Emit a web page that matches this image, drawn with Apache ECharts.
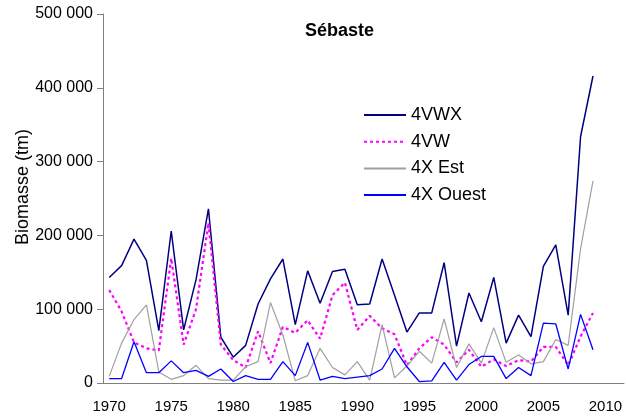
<!DOCTYPE html>
<html>
<head>
<meta charset="utf-8">
<script src="https://cdn.jsdelivr.net/npm/echarts@6/dist/echarts.min.js"></script>
<style>
html,body{margin:0;padding:0;background:#fff;}
#chart{width:626px;height:418px;}
</style>
</head>
<body>
<div id="chart"></div>
<script>
var years = ['1970','1971','1972','1973','1974','1975','1976','1977','1978','1979',
             '1980','1981','1982','1983','1984','1985','1986','1987','1988','1989',
             '1990','1991','1992','1993','1994','1995','1996','1997','1998','1999',
             '2000','2001','2002','2003','2004','2005','2006','2007','2008','2009',
             '2010','2011'];
var s4VWX = [143000,159000,195000,166000,71000,206000,72000,140000,236000,62000,
             35000,51000,107000,141000,168000,79000,152000,108000,151000,154000,
             106000,107000,168000,119000,69000,95000,95000,163000,50000,122000,
             83000,143000,54000,92000,63000,158000,187000,92000,334000,416000];
var s4VW = [126000,97000,55000,47000,44000,169000,52000,100000,217000,52000,
            31000,21000,70000,27000,76000,68000,85000,60000,119000,136000,
            72000,91000,74000,66000,24000,47000,62000,52000,28000,45000,
            22000,32000,23000,31000,29000,49000,49000,24000,63000,95000];
var s4XEst = [9000,54000,86000,106000,15000,5000,10000,24000,6000,4000,
              4000,22000,29000,109000,65000,3000,10000,47000,21000,11000,
              29000,4000,79000,7000,23000,43000,27000,87000,21000,53000,
              27000,75000,28000,38000,26000,29000,59000,51000,182000,274000];
var s4XOuest = [6000,6000,56000,14000,14000,30000,14000,17000,9000,19000,
                2000,10000,5000,5000,29000,10000,55000,4000,9000,6000,
                8000,10000,19000,47000,22000,2000,3000,28000,4000,25000,
                36000,36000,6000,21000,10000,81000,80000,19000,93000,45000];
var yTicks = [0,100000,200000,300000,400000,500000];

var FONT = "'Liberation Sans', Arial, sans-serif";
function fmt(v){ return String(v).replace(/\B(?=(\d{3})+(?!\d))/g,' '); }

var chart = echarts.init(document.getElementById('chart'), null, {renderer:'canvas'});
chart.setOption({
  animation:false,
  backgroundColor:'#ffffff',
  textStyle:{fontFamily:FONT},
  title:{
    text:'Sébaste', left:305, top:22, padding:0,
    textStyle:{fontFamily:FONT,fontSize:18,fontWeight:'bold',color:'#000'}
  },
  legend:{
    orient:'vertical', left:363, top:105, padding:0,
    itemWidth:42, itemHeight:20, itemGap:6.7,
    itemStyle:{opacity:0, borderWidth:0},
    textStyle:{fontFamily:FONT,fontSize:18,color:'#000',lineHeight:20},
    data:['4VWX','4VW','4X Est','4X Ouest']
  },
  graphic:[{
    type:'text', x:23, y:187, rotation:Math.PI/2,
    style:{text:'Biomasse (tm)', font:'18px '+FONT, fill:'#000',
           textAlign:'center', textVerticalAlign:'middle'}
  }],
  grid:{left:103, right:2, top:14, bottom:35, containLabel:false},
  xAxis:{
    type:'category', data:years, boundaryGap:true,
    axisLine:{lineStyle:{color:'#808080',width:1}},
    axisTick:{interval:0, length:5, lineStyle:{color:'#808080'}},
    axisLabel:{interval:4, margin:16, color:'#000', fontFamily:FONT, fontSize:15}
  },
  yAxis:{
    type:'value', min:yTicks[0], max:yTicks[yTicks.length-1], interval:100000,
    splitLine:{show:false},
    axisLine:{show:true, lineStyle:{color:'#808080',width:1}},
    axisTick:{show:true, length:6, lineStyle:{color:'#808080'}},
    axisLabel:{margin:10, color:'#000', fontFamily:FONT, fontSize:16, formatter:fmt}
  },
  series:[
    {name:'4VWX', type:'line', data:s4VWX, symbol:'none', color:'#000080',
     lineStyle:{color:'#000080', width:1.5}},
    {name:'4VW', type:'line', data:s4VW, symbol:'none', color:'#FF00FF',
     lineStyle:{color:'#FF00FF', width:2.2, type:[3,3]}},
    {name:'4X Est', type:'line', data:s4XEst, symbol:'none', color:'#A0A0A0',
     lineStyle:{color:'#A0A0A0', width:1.2}},
    {name:'4X Ouest', type:'line', data:s4XOuest, symbol:'none', color:'#0000FF',
     lineStyle:{color:'#0000FF', width:1.3}}
  ]
});
</script>
</body>
</html>
